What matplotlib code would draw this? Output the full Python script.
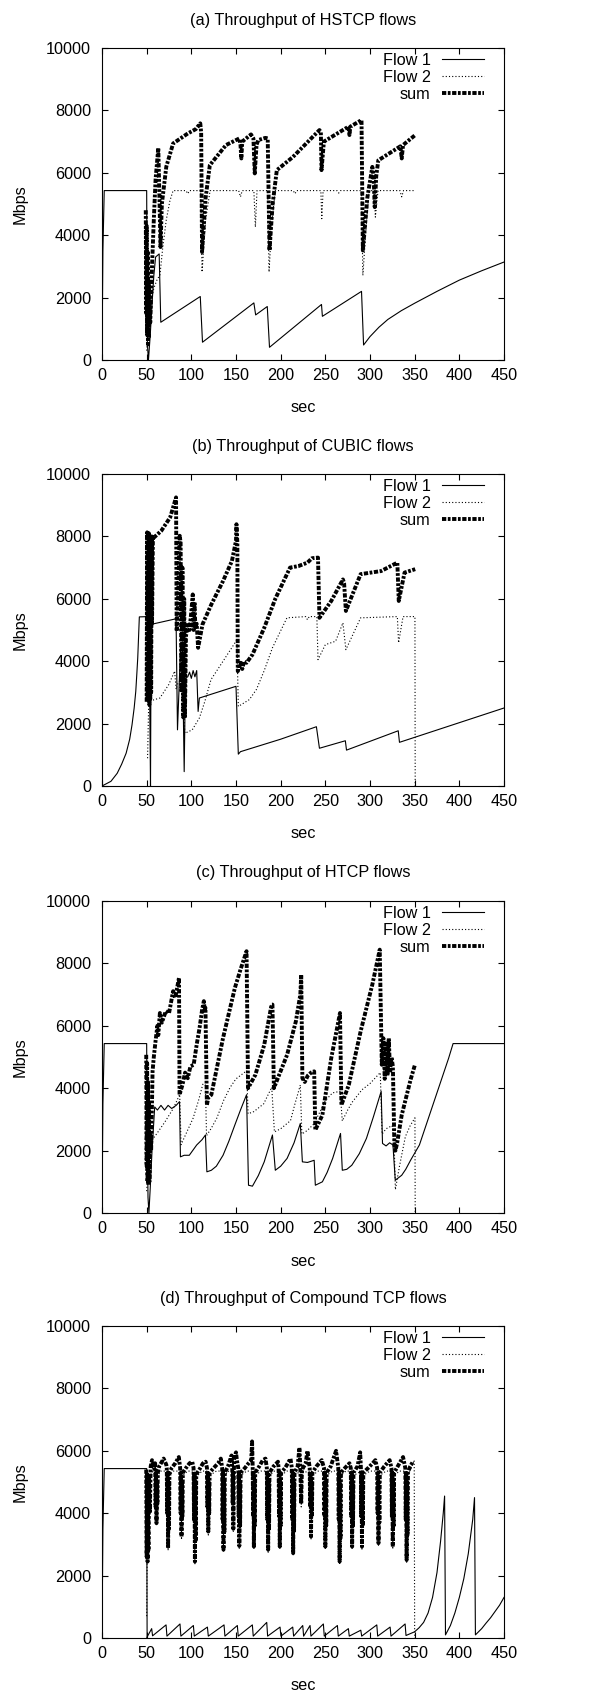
import matplotlib
matplotlib.use("Agg")
import matplotlib.pyplot as plt

plt.rcParams['font.family'] = ['Liberation Sans', 'DejaVu Sans']
FS = 11.7

# ---------------- Panel (a) HSTCP ----------------
a_f1_t = [0, 1, 2.5, 48, 50, 50.8, 52, 54, 56, 58, 60, 64, 65.8, 110, 112.5, 170, 172, 185, 187.5,
          245.7, 246.7, 290.5, 292.8, 300, 310, 320, 335, 350, 375, 400, 425, 450]
a_f1_v = [0, 3500, 5430, 5430, 5430, 500, 0, 800, 1800, 2700, 3300, 3400, 1210, 2035, 570, 1830, 1445, 1714, 407,
          1780, 1400, 2200, 480, 750, 1050, 1300, 1580, 1820, 2200, 2560, 2860, 3140]

a_f2_t = [50, 52, 55, 58, 62, 64.8, 68, 72, 76, 79.6, 94, 96, 98, 110.5, 112, 116, 121, 153, 155, 157,
          170, 171.7, 173.5, 185.5, 187, 190, 194, 214, 216, 218, 245, 246, 247.5, 263, 265, 267,
          290.5, 292, 296, 299, 304.5, 306, 309, 333.5, 335.5, 337.5, 350.6]
a_f2_v = [300, 1200, 1900, 2300, 2600, 2710, 3600, 4500, 5100, 5430, 5430, 5330, 5430, 5430, 2820, 4500, 5430, 5430, 5230, 5430,
          5430, 4260, 5430, 5430, 2820, 4400, 5430, 5430, 5330, 5430, 5430, 4530, 5430, 5430, 5350, 5430,
          5430, 2710, 4400, 5430, 5430, 4580, 5430, 5430, 5230, 5430, 5430]

a_sum_t = [49, 49.5, 50, 50.5, 51, 51.5, 52, 52.5, 53, 54, 56, 58, 60, 63, 64, 65.5, 67, 72, 79.6, 96, 105, 110,
           111, 112, 116, 120.7, 138.8, 153.6, 155, 156, 157, 166.8, 169.5, 171, 173, 175, 183, 185.5, 187.5,
           191, 195.7, 213.8, 243.4, 245, 245.7, 248.4, 276, 277, 278, 290.5, 292, 297, 302.6, 304, 305.3,
           307, 309.3, 334, 335.5, 337, 350.6]
a_sum_v = [4800, 1500, 4300, 800, 3500, 500, 2500, 700, 1800, 1200, 3000, 4500, 5800, 6800, 5600, 3620, 5000, 6200, 6940, 7260, 7400, 7585,
           7300, 3460, 5200, 6245, 6890, 7100, 6900, 6460, 7000, 7230, 7100, 5980, 6900, 7050, 7120, 7100, 3510,
           5000, 6085, 6510, 7370, 7300, 6085, 7000, 7480, 7210, 7480, 7690, 3510, 5200, 6190, 5900, 4900,
           5900, 6400, 6850, 6460, 6890, 7210]

# ---------------- Panel (b) CUBIC ----------------
b_f1_t = [0, 10, 17, 22, 27, 31, 33.6, 36, 37.8, 39, 40, 41.8, 52.3, 53.5, 54.3, 55, 82.9, 84.5, 87.8, 90, 92,
          93.4, 96, 98, 100, 102, 104, 106, 107.6, 109, 150, 152.6, 155, 200, 240, 243.4, 272.4, 273.7,
          331.6, 333, 450]
b_f1_v = [0, 150, 407, 700, 1050, 1500, 1960, 2500, 3030, 3600, 4100, 5420, 5430, 2500, 0, 5180, 5360, 1800, 4320, 4370, 460,
          3460, 3500, 3650, 3450, 3700, 3500, 3700, 2390, 2820, 3195, 1020, 1100, 1500, 1900, 1210, 1450, 1150,
          1770, 1400, 2500]

b_f2_t = [51, 52.3, 56.6, 64.8, 74.7, 81.3, 83, 85, 88, 90, 92.8, 101, 109, 115, 122, 135.5, 150, 151, 152.6,
          165, 173, 181.6, 190.8, 207, 228, 230, 232, 240.5, 241.8, 250, 261.5, 269.7, 273, 289.5, 330.6,
          332, 337, 350.3, 350.6]
b_f2_v = [890, 2710, 2750, 2820, 3250, 3680, 3100, 3300, 3400, 3300, 1690, 1800, 2180, 2700, 3410, 4000, 4640, 4700, 2550,
          2770, 3100, 3700, 4430, 5390, 5430, 5330, 5430, 5430, 4050, 4530, 4640, 5230, 4370, 5390, 5430,
          4590, 5430, 5430, 0]

b_sum_t = [50, 50.5, 51, 51.5, 52, 52.5, 53, 53.5, 54, 54.5, 55, 55.6, 56, 57, 58, 66.4, 76.3, 82.9, 83.6, 85, 87,
           88, 89, 90, 91, 92, 92.8, 94, 96, 98, 100, 101.6, 102.5, 103.5, 104.5, 106, 107.6, 112.5, 122.4,
           135.5, 145.4, 150, 150.5, 151.5, 152, 155.3, 157, 159, 161.8, 168.4, 181.6, 194, 210.5, 220, 230,
           235, 241.8, 243.4, 256.6, 269.7, 271, 273, 289.5, 312.5, 330.6, 332.2, 338.7, 350.6]
b_sum_v = [2700, 8130, 2700, 8100, 3000, 8100, 2600, 8000, 2800, 7900, 3000, 8000, 5200, 8000, 7960, 8180, 8610, 9250, 4960, 5800, 8020,
           7800, 3000, 7000, 2200, 6000, 2180, 4800, 5230, 5000, 5600, 6140, 5000, 5900, 5100, 5200, 4430, 5180, 5820,
           6570, 7210, 7860, 8390, 7800, 3680, 3950, 3750, 4000, 3950, 4210, 5070, 6000, 7000, 7050, 7160,
           7300, 7320, 5390, 5930, 6620, 6500, 5610, 6790, 6890, 7160, 5930, 6840, 6950]

# ---------------- Panel (c) HTCP ----------------
c_f1_t = [0, 1, 2.5, 50, 50.5, 51.5, 52.5, 54, 56, 59, 62, 66, 70, 74, 78, 83, 86.8, 87.8, 92, 97.7, 106, 112,
          115.8, 117.4, 122.4, 128, 135.5, 142, 148.7, 155, 161.8, 164, 168.4, 175, 181.6, 190.8, 194, 200,
          207.2, 215, 222, 224.3, 230, 237.5, 238.8, 246.7, 252, 258.2, 267, 269, 274, 279.6, 288, 296, 304,
          312.5, 314, 318, 322, 325.7, 328.3, 335.5, 340, 345.4, 355.3, 388, 393, 450]
c_f1_v = [0, 3500, 5430, 5430, 3000, 500, 0, 800, 2000, 3400, 3300, 3450, 3300, 3450, 3350, 3450, 3570, 1800, 1850, 1850, 2180, 2350,
          2500, 1320, 1370, 1500, 1850, 2300, 2820, 3300, 3790, 890, 860, 1200, 1640, 2500, 1370, 1500,
          1750, 2250, 2870, 1640, 1620, 1690, 890, 1000, 1300, 1750, 2550, 1370, 1400, 1530, 1900, 2390, 3100,
          3900, 2230, 2150, 2250, 2180, 1050, 1210, 1400, 1690, 2180, 4960, 5430, 5430]

c_f2_t = [50, 52, 55, 61, 70, 80, 87, 88.5, 95, 102, 108, 113, 115.8, 117, 122, 128.5, 136, 143.5, 150, 162,
          163.5, 170, 181, 190, 193, 200, 211, 216, 222, 223.7, 230, 237, 245, 250, 258, 266.5, 269, 275,
          280, 291, 300, 311.5, 313.5, 318, 324.7, 327, 328.4, 333, 339.6, 345, 350.3, 350.6]
c_f2_v = [700, 1500, 2300, 2530, 2900, 3360, 3800, 2190, 2600, 3040, 3600, 4140, 4100, 2480, 2700, 3040, 3600, 4030, 4300, 4560,
          3180, 3250, 3500, 4030, 2600, 2700, 2960, 3500, 4100, 2530, 2650, 2850, 3300, 3600, 3850, 3900, 2950, 3300,
          3550, 3950, 4150, 4500, 2530, 2700, 2800, 2300, 750, 1500, 2450, 2800, 3050, 0]

c_sum_t = [49.5, 50, 50.5, 51, 51.5, 52, 52.5, 53, 54, 55, 56.6, 58, 59.9, 62, 63, 64.8, 67, 71.4, 75, 79.6, 82,
           86.2, 86.8, 90, 93, 96, 99, 102.6, 106, 109.2, 112, 114, 115, 115.8, 117.4, 119, 122.4, 135.5,
           148.7, 155, 161.8, 163.5, 171.7, 181.6, 189.8, 190.8, 192.4, 207.2, 217, 222, 223, 224.3, 227,
           230.3, 234, 237.5, 238.8, 246.7, 256.6, 266.4, 268, 276.3, 289.5, 302.6, 310.9, 313.2, 315,
           316.5, 318, 319.5, 321, 322.5, 324, 325.6, 327.3, 328.5, 330.6, 335.5, 345.4, 350.3]
c_sum_v = [5070, 1500, 4800, 1000, 4200, 900, 3500, 1000, 2500, 2000, 4540, 5000, 5500, 6000, 5700, 6410, 6100, 6470, 6400, 7110, 6900,
           7540, 3790, 4100, 4500, 4320, 4700, 4750, 5400, 5930, 6500, 6790, 6500, 6570, 3460, 3700, 3790, 5610,
           7210, 7800, 8390, 4000, 4430, 5390, 6680, 6680, 4000, 5070, 6140, 7000, 7640, 4320, 4200,
           4400, 4500, 4540, 2660, 3140, 4960, 6410, 3460, 4110, 5820, 7320, 8440, 4750, 5600,
           4300, 5500, 4400, 5600, 4500, 5000, 4700, 2180, 2000, 2280, 3140, 4270, 4750]

# ---------------- Panel (d) Compound TCP ----------------
d_f1_t = [0, 1, 2.5, 50, 50.5, 51, 55.6, 56.6, 71.7, 72.7, 87.3, 88.3, 102.3, 103.3, 118, 119, 136.6, 137.6,
          151.5, 152.5, 168.3, 169.3, 184.4, 185.4, 199.3, 200.3, 213.5, 214.5, 224.7, 225.7, 232.9, 233.9,
          247.8, 248.8, 263.5, 264.5, 275.8, 276.8, 289.7, 290.7, 307.6, 308.6, 322.5, 323.5, 339.3, 340.3,
          350, 355, 360, 365, 370, 375, 379, 382, 383.5, 384.5, 390, 395, 400, 405, 410, 415, 417, 418,
          425, 430, 435, 440, 445, 450]
d_f1_v = [0, 3500, 5430, 5430, 0, 60, 300, 70, 420, 60, 450, 60, 400, 60, 350, 60, 420, 60,
          400, 60, 420, 60, 500, 60, 350, 60, 350, 60, 400, 60, 400, 60,
          450, 60, 400, 60, 300, 60, 250, 60, 420, 60, 350, 60, 450, 80,
          200, 330, 500, 800, 1300, 2100, 3100, 4000, 4550, 100, 400, 800, 1300, 1900, 2700, 3800, 4500, 100,
          300, 480, 650, 850, 1050, 1300]

d_f2_t = [50, 50.5, 51, 51.5, 52, 53, 55, 58, 60.3, 61, 62, 66, 73.3, 74, 75, 80, 88.3, 89, 90, 96, 103.3, 104, 105,
          112, 118.3, 119, 120, 128, 135.3, 136, 137, 142, 146.3, 147, 148, 153, 153.7, 154.7, 162, 169.3,
          170, 171, 178, 185.3, 186, 187, 193, 198.3, 199, 200, 207, 213.3, 214, 215, 222.3, 223, 224, 233.3,
          234, 235, 242, 249.3, 250, 251, 258, 265.3, 266, 267, 273, 279.3, 280, 281, 290.3, 291, 292, 300,
          308.8, 309.5, 310.5, 318, 324.8, 325.5, 326.5, 333, 340.3, 341, 342, 346, 349.5, 350]
d_f2_v = [700, 2300, 5000, 2500, 5100, 4500, 5300, 5350, 5300, 3600, 5200, 5350, 5350, 2800, 5200, 5350, 5350, 3150, 5200, 5350, 5350, 2350, 5150,
          5350, 5350, 3300, 5200, 5350, 5350, 2750, 5200, 5350, 5350, 3400, 5300, 5350, 2850, 5200, 5350, 5350,
          2850, 5200, 5350, 5350, 2750, 5200, 5350, 5350, 2850, 5200, 5350, 5350, 2650, 5200, 5350, 4200, 5300, 5350,
          3150, 5200, 5350, 5350, 2850, 5200, 5350, 5350, 2350, 5200, 5350, 5350, 2850, 5200, 5350, 2850, 5200, 5350,
          5350, 2950, 5200, 5350, 5350, 2850, 5200, 5350, 5350, 2400, 5200, 5450, 5700, 0]

d_sum_t = [49.5, 50, 50.5, 51, 51.5, 52, 52.5, 53.5, 54.5, 56, 58,
           59.5, 60, 60.5, 61, 61.5, 62, 62.5, 64, 67, 69, 72,
           72.5, 73, 73.5, 74, 74.5, 75, 75.5, 78, 82, 86,
           87.5, 88, 88.5, 89, 89.5, 90, 90.5, 94, 98, 101,
           102.5, 103, 103.5, 104, 104.5, 105, 105.5, 109, 113, 116,
           117.5, 118, 118.5, 119, 119.5, 120, 120.5, 125, 130, 133,
           134.5, 135, 135.5, 136, 136.5, 137, 137.5, 141, 145,
           145.8, 146.3, 146.7, 147, 147.4, 148, 150, 151,
           152.5, 153, 153.4, 153.7, 154.1, 154.6, 155.2, 160, 164, 167, 168,
           168.7, 169.2, 169.6, 170, 170.5, 171, 171.5, 176, 180, 183,
           184.5, 185, 185.5, 186, 186.5, 187, 187.5, 192, 197,
           197.7, 198.2, 198.6, 199, 199.5, 200, 200.5, 205, 211,
           212.5, 213, 213.5, 214, 214.5, 215, 215.5, 219, 221,
           222, 222.5, 223, 223.5, 224, 228, 230,
           232.5, 233, 233.5, 234, 234.5, 235, 235.5, 240, 246,
           248.5, 249, 249.5, 250, 250.5, 251, 251.5, 256, 262,
           264.5, 265, 265.5, 266, 266.5, 267, 267.5, 272, 277,
           278.5, 279, 279.5, 280, 280.5, 281, 281.5, 286, 289,
           289.8, 290.2, 290.6, 291, 291.5, 292, 292.5, 298, 303, 306,
           308, 308.5, 309, 309.5, 310, 310.5, 311, 316, 322,
           324, 324.5, 325, 325.5, 326, 326.5, 327, 331, 337,
           339.5, 340, 340.5, 341, 341.5, 342, 342.5, 345, 348]
d_sum_v = [5400, 2600, 5300, 2450, 5000, 2800, 5200, 4000, 5500, 5700, 5450,
           5600, 4200, 5300, 3680, 5000, 4300, 5300, 5500, 5650, 5750, 5550,
           5450, 4000, 5300, 2880, 5000, 3500, 5300, 5450, 5600, 5800,
           5450, 4000, 5300, 3250, 5000, 3900, 5300, 5450, 5600, 5650,
           5450, 3800, 5300, 2450, 5000, 3100, 5250, 5400, 5600, 5650,
           5450, 4200, 5300, 3410, 5000, 4000, 5300, 5450, 5600, 5750,
           5450, 3800, 5300, 2830, 5000, 3400, 5300, 5500, 5850,
           5450, 4300, 5300, 3500, 5000, 5800, 5950, 5700,
           5450, 3900, 5300, 2950, 5000, 3600, 5300, 5450, 5600, 5700, 6300,
           5450, 3900, 5300, 2930, 5000, 3600, 5300, 5500, 5700, 5750,
           5450, 3800, 5300, 2830, 5000, 3500, 5300, 5500, 5650,
           5450, 3900, 5300, 2930, 5000, 3600, 5300, 5450, 5750,
           5450, 3800, 5300, 2720, 5000, 3400, 5300, 5500, 6100,
           5450, 4800, 4300, 5100, 5400, 5600, 6000,
           5450, 4200, 5300, 3250, 5000, 3900, 5300, 5500, 5700,
           5450, 3900, 5300, 2930, 5000, 3600, 5300, 5500, 6000,
           5450, 3800, 5300, 2450, 5000, 3200, 5300, 5450, 5600,
           5450, 3900, 5300, 2930, 5000, 3600, 5300, 5500, 5950,
           5450, 3900, 5300, 2930, 5000, 3600, 5300, 5450, 5600, 5700,
           5450, 4000, 5300, 3040, 5000, 3700, 5300, 5500, 5700,
           5450, 3900, 5300, 2930, 5000, 3600, 5300, 5500, 5800,
           5450, 3800, 5300, 2500, 5000, 3300, 5300, 5500, 5650]

titles = ["(a) Throughput of HSTCP flows", "(b) Throughput of CUBIC flows",
          "(c) Throughput of HTCP flows", "(d) Throughput of Compound TCP flows"]
legend_labels = ["Flow 1", "Flow 2", "sum"]
x_ticks = list(range(0, 451, 50))
y_ticks = list(range(0, 10001, 2000))

panels = [
    (a_f1_t, a_f1_v, a_f2_t, a_f2_v, a_sum_t, a_sum_v),
    (b_f1_t, b_f1_v, b_f2_t, b_f2_v, b_sum_t, b_sum_v),
    (c_f1_t, c_f1_v, c_f2_t, c_f2_v, c_sum_t, c_sum_v),
    (d_f1_t, d_f1_v, d_f2_t, d_f2_v, d_sum_t, d_sum_v),
]

W, H = 594, 1693
fig = plt.figure(figsize=(W / 100, H / 100), dpi=100)

ax_left, ax_w, ax_h = 102, 402, 312
ax_tops = [48, 474, 901, 1326]

for i, (f1t, f1v, f2t, f2v, st, sv) in enumerate(panels):
    top = ax_tops[i]
    bottom = top + ax_h
    ax = fig.add_axes([ax_left / W, (H - bottom) / H, ax_w / W, ax_h / H])
    l1, = ax.plot(f1t, f1v, color='black', lw=0.8)
    l2, = ax.plot(f2t, f2v, color='black', lw=0.8, linestyle=(0, (1.0, 1.9)))
    l3, = ax.plot(st, sv, color='black', lw=2.8, linestyle=(0, (1.1, 0.4, 0.7, 0.4)))
    ax.set_xlim(0, 450)
    ax.set_ylim(0, 10000)
    ax.set_xticks(x_ticks)
    ax.set_yticks(y_ticks)
    ax.tick_params(direction='in', top=True, right=True, length=4.5, width=0.8,
                   labelsize=FS, colors='black')
    ax.tick_params(axis='y', pad=8)
    ax.tick_params(axis='x', pad=5.5)
    for sp in ax.spines.values():
        sp.set_linewidth(0.8)
    ax.legend([l1, l2, l3], legend_labels, loc='upper right',
              bbox_to_anchor=(0.951, 0.985), frameon=False, markerfirst=False,
              fontsize=FS, handlelength=2.6, handletextpad=0.7,
              labelspacing=0.12, borderpad=0, borderaxespad=0)
    fig.text(303 / W, (H - (top - 28)) / H, titles[i], ha='center', va='center', fontsize=FS)
    fig.text(20 / W, (H - (top + ax_h / 2)) / H, "Mbps", ha='center', va='center',
             rotation=90, fontsize=FS)
    fig.text(303 / W, (H - (bottom + 48)) / H, "sec", ha='center', va='center', fontsize=FS)

fig.savefig("out.png", dpi=100)
